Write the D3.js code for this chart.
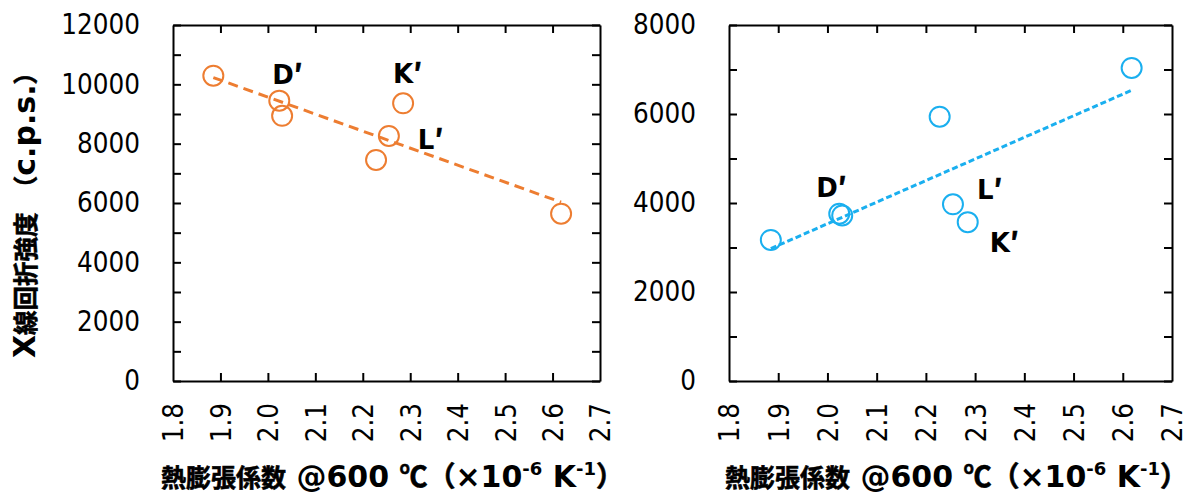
<!DOCTYPE html>
<html lang="ja">
<head>
<meta charset="utf-8">
<title>熱膨張係数とX線回折強度</title>
<script src="https://cdn.jsdelivr.net/npm/d3@7"></script>
<style>
  html, body { margin: 0; padding: 0; background: #fff; }
  svg { display: block; }
  .tick text {
    font-family: "DejaVu Sans Condensed", "DejaVu Sans", sans-serif;
    font-stretch: condensed;
    font-size: 27.5px;
    fill: #000;
  }
  .domain, .tick line { stroke: #000; stroke-width: 2; }
  .lbl { font-family: "DejaVu Sans", sans-serif; font-weight: bold; font-size: 26px; }
  .cj { stroke: #000; stroke-width: 0.6px; }
</style>
</head>
<body>
<svg width="1184" height="493"></svg>
<script>
// thermal expansion coefficient @600 C (x10^-6 /K), same samples in both panels
const cte = [1.885, 2.024, 2.030, 2.228, 2.255, 2.285, 2.618]
// XRD intensity (c.p.s.), left and right panels
const xrdLeft = [10290, 9450, 8940, 7450, 8260, 9360, 5640]
const xrdRight = [3170, 3760, 3720, 5940, 3970, 3570, 7035]

const xTicks = [1.8, 1.9, 2.0, 2.1, 2.2, 2.3, 2.4, 2.5, 2.6, 2.7]
const yTicksLeft = [0, 1000, 2000, 3000, 4000, 5000, 6000, 7000, 8000, 9000, 10000, 11000, 12000]
const yTicksRight = [0, 1000, 2000, 3000, 4000, 5000, 6000, 7000, 8000]

// sample labels and which point they belong to
const labelNames = ["D", "K", "L"]
const labelPointLeft = [1, 5, 4]
const labelPointRight = [2, 5, 4]

const svg = d3.select("svg")
const cjk = '"Noto Sans CJK JP", sans-serif'
const lat = '"DejaVu Sans", sans-serif'

function drawPanel(p) {
  const g = svg.append("g")
  const x = d3.scaleLinear().domain([1.8, 2.7]).range([p.left, p.right])
  const y = d3.scaleLinear().domain([0, p.yMax]).range([p.bottom, p.top])

  // frame + inside ticks on all four sides
  const bottomAxis = g.append("g").attr("transform", "translate(0," + p.bottom + ")")
    .call(d3.axisBottom(x).tickValues(xTicks).tickSize(-8).tickSizeOuter(0).tickFormat(d3.format(".1f")))
  bottomAxis.selectAll("text")
    .attr("y", 0).attr("dy", "0.36em").attr("x", -22)
    .attr("transform", "rotate(-90)")
    .style("text-anchor", "end")

  g.append("g").attr("transform", "translate(0," + p.top + ")")
    .call(d3.axisTop(x).tickValues(xTicks).tickSize(-8).tickSizeOuter(0).tickFormat(""))

  g.append("g").attr("transform", "translate(" + p.left + ",0)")
    .call(d3.axisLeft(y).tickValues(p.yTicks).tickSize(-8).tickSizeOuter(0).tickPadding(33)
      .tickFormat(d => d % 2000 === 0 ? d3.format("d")(d) : ""))

  g.append("g").attr("transform", "translate(" + p.right + ",0)")
    .call(d3.axisRight(y).tickValues(p.yTicks).tickSize(-8).tickSizeOuter(0).tickFormat(""))

  g.selectAll(".tick line").filter(d => d === 1.8 || d === 2.7).remove()

  // linear trendline (least squares) over the data range
  const mx = d3.mean(cte), my = d3.mean(p.values)
  const slope = d3.sum(cte, (v, i) => (v - mx) * (p.values[i] - my)) / d3.sum(cte, v => (v - mx) * (v - mx))
  const icpt = my - slope * mx
  const ends = d3.extent(cte)
  g.append("path")
    .datum(ends)
    .attr("d", d3.line().x(d => x(d)).y(d => y(icpt + slope * d)))
    .attr("fill", "none")
    .attr("stroke", p.color)
    .attr("stroke-width", 3)
    .attr("stroke-dasharray", p.dash)

  g.selectAll("circle.pt")
    .data(cte)
    .join("circle")
    .attr("class", "pt")
    .attr("cx", d => x(d))
    .attr("cy", (d, i) => y(p.values[i]))
    .attr("r", 10)
    .attr("fill", "none")
    .attr("stroke", p.color)
    .attr("stroke-width", 2)

  const lbl = g.selectAll("text.lbl")
    .data(labelNames)
    .join("text")
    .attr("class", "lbl")
    .attr("x", (d, i) => x(cte[p.labelPoint[i]]) + p.labelOffset[i][0])
    .attr("y", (d, i) => y(p.values[p.labelPoint[i]]) + p.labelOffset[i][1])
  lbl.append("tspan").text(d => d)
  lbl.append("tspan").attr("font-family", cjk).attr("font-size", 27).attr("class", "cj").text("′")

  // x axis title
  const t = g.append("text")
    .attr("x", (p.left + p.right) / 2 + 6)
    .attr("y", 487)
    .attr("text-anchor", "middle")
    .attr("font-weight", "bold")
  t.append("tspan").attr("font-family", cjk).attr("font-size", 25).attr("class", "cj").text("熱膨張係数")
  t.append("tspan").attr("font-family", lat).attr("font-size", 30).text(" @600 ")
  t.append("tspan").attr("font-family", cjk).attr("font-size", 28).attr("class", "cj").text("℃（")
  t.append("tspan").attr("font-family", lat).attr("font-size", 30).text("×10")
  t.append("tspan").attr("font-family", lat).attr("font-size", 18).attr("dy", -12).text("-6")
  t.append("tspan").attr("font-family", lat).attr("font-size", 30).attr("dy", 12).text(" K")
  t.append("tspan").attr("font-family", lat).attr("font-size", 18).attr("dy", -12).text("-1")
  t.append("tspan").attr("font-family", cjk).attr("font-size", 28).attr("class", "cj").attr("dy", 12).text("）")
}

drawPanel({
  left: 173, right: 600, top: 25, bottom: 381,
  yMax: 12000, yTicks: yTicksLeft, values: xrdLeft,
  color: "#ED7D31", dash: "10,6",
  labelPoint: labelPointLeft,
  labelOffset: [[-7, -17], [-10, -20], [29, 13]]
})

drawPanel({
  left: 729, right: 1172, top: 25, bottom: 381,
  yMax: 8000, yTicks: yTicksRight, values: xrdRight,
  color: "#1AAFEF", dash: "6,3",
  labelPoint: labelPointRight,
  labelOffset: [[-26, -18], [22, 30], [24, -5]]
})

// y axis title (left panel only)
const yt = svg.append("text")
  .attr("transform", "translate(35,209) rotate(-90)")
  .attr("text-anchor", "middle")
  .attr("font-weight", "bold")
yt.append("tspan").attr("font-family", lat).attr("font-size", 30).text("X")
yt.append("tspan").attr("font-family", cjk).attr("font-size", 24.5).attr("class", "cj").text("線回折強度　（")
yt.append("tspan").attr("font-family", lat).attr("font-size", 30).text("c.p.s.")
yt.append("tspan").attr("font-family", cjk).attr("font-size", 24.5).attr("class", "cj").text("）")
</script>
</body>
</html>
